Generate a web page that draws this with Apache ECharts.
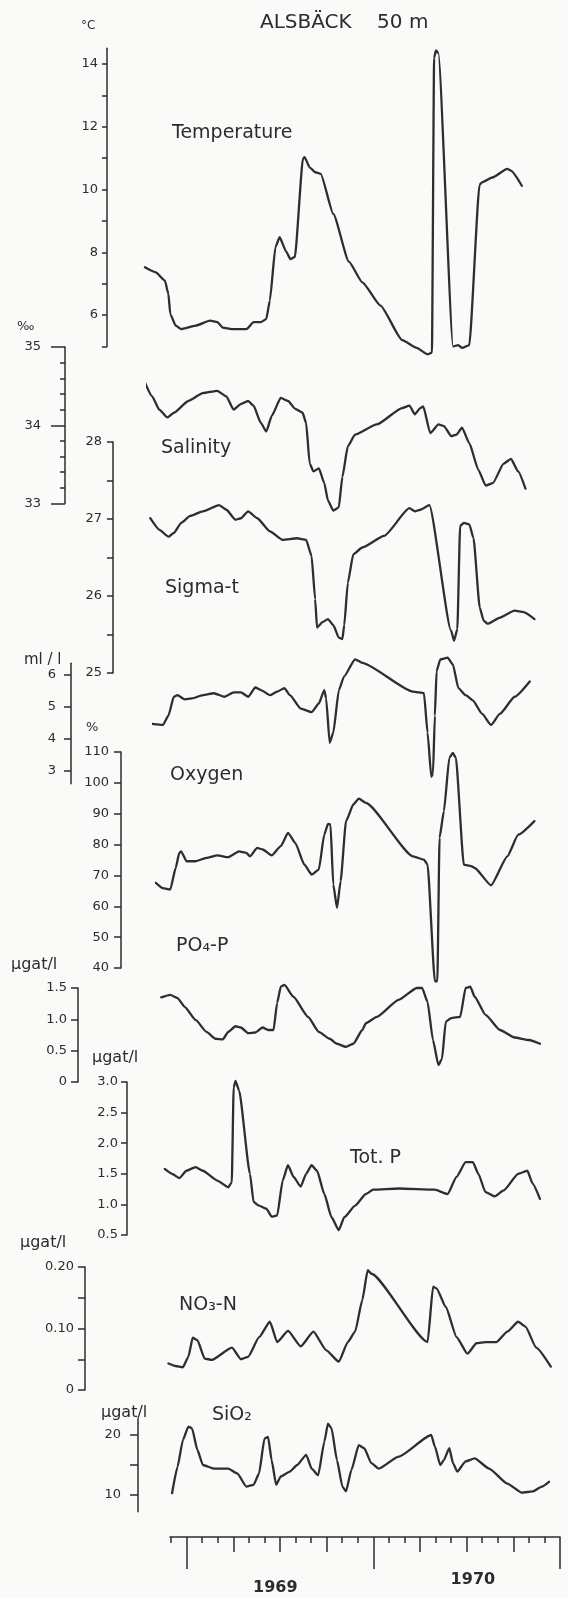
<!DOCTYPE html>
<html>
<head>
<meta charset="utf-8">
<title>Alsbäck 50 m</title>
<script src="https://cdn.jsdelivr.net/npm/echarts@6/dist/echarts.min.js"></script>
<style>
  html, body { margin: 0; padding: 0; background: #fafaf8; }
  #chart { width: 568px; height: 1598px; }
</style>
</head>
<body>
<div id="chart"></div>
<script>
// Time is counted in months from 1 January 1969.
const monthTicks = [-1,0,1,2,3,4,5,6,7,8,9,10,11,12,13,14,15,16,17,18,19,20,21,22,23,24];
const quarterTicks = [3,6,9,15,18,21];
const yearTicks = [0,12,24];
const yearLabelPos = [5.7, 18.4];
const yearNames = ['1969', '1970'];

// Observations at 50 m: [month, value]
const temperature = [
  [-0.96,7.52],[-0.26,7.36],[0.32,7.1],[0.55,6.67],[0.67,6.03],[1.02,5.66],[1.37,5.55],[2.3,5.66],
  [3.23,5.82],[3.7,5.77],[4.04,5.6],[4.63,5.55],[5.56,5.55],[6.03,5.77],[6.49,5.77],[6.84,5.87],
  [7.07,6.46],[7.43,8.16],[7.7,8.48],[8.12,8.02],[8.4,7.78],[8.68,7.85],[9.2,10.98],[9.3,11.03],
  [9.64,10.7],[9.99,10.55],[10.34,10.5],[11.15,9.22],[12.15,7.7],[13.02,7.04],
  [14.18,6.3],[15.58,5.2],[16.51,4.95],[17.21,4.75],[17.49,4.8],[17.63,14.2],[17.75,14.43],
  [17.9,14.35],[18.85,5.0],[19.19,5.04],[19.43,4.95],[19.89,5.04],[20.55,10.15],[20.71,10.23],
  [21.41,10.39],[22.33,10.66],[22.57,10.6],[23.27,10.12]
];
const salinity = [
  [-1.25,34.55],[-0.78,34.37],[-0.32,34.2],[0.2,34.1],[0.62,34.16],[1.55,34.31],[2.48,34.41],
  [3.41,34.44],[3.99,34.37],[4.46,34.2],[4.92,34.27],[5.39,34.31],[5.74,34.25],[6.21,34.03],
  [6.56,33.92],[6.91,34.12],[7.49,34.35],[7.96,34.31],[8.42,34.21],[8.89,34.16],[9.12,34.03],
  [9.35,33.51],[9.59,33.41],[9.94,33.45],[10.29,33.26],[10.52,33.04],[10.87,32.91],[11.22,32.95],
  [11.45,33.34],[11.8,33.73],[12.26,33.88],[13.66,34.01],[15.29,34.22],[15.76,34.25],[16.11,34.14],
  [16.46,34.22],[16.65,34.24],[17.1,33.9],[17.63,34.01],[17.98,33.99],[18.45,33.86],[18.79,33.88],
  [19.14,33.97],[19.61,33.77],[20.19,33.43],[20.66,33.23],[21.12,33.26],[21.82,33.51],[22.29,33.57],
  [22.75,33.41],[23.22,33.19]
];
const sigmaT = [
  [-1.08,27.01],[-0.49,26.86],[0.09,26.77],[0.44,26.82],[0.91,26.95],[1.49,27.04],[2.3,27.1],
  [3.35,27.18],[3.81,27.12],[4.4,26.99],[4.75,27.01],[5.21,27.1],[5.8,27.01],[6.61,26.84],
  [7.43,26.73],[8.36,26.75],[8.94,26.73],[9.29,26.52],[9.52,25.96],[9.64,25.59],[9.99,25.66],
  [10.34,25.7],[10.69,25.62],[11.04,25.46],[11.27,25.44],[11.39,25.62],[11.62,26.17],[11.97,26.54],
  [12.55,26.63],[13.95,26.78],[15.58,27.14],[15.94,27.1],[16.28,27.12],[16.86,27.18],[18.26,25.55],
  [18.45,25.42],[18.66,25.57],[18.84,26.91],[19.08,26.95],[19.43,26.93],[19.7,26.75],[20.1,25.85],
  [20.35,25.68],[20.6,25.64],[21.41,25.72],[22.34,25.81],[22.93,25.79],[23.62,25.7]
];
const oxygenMl = [
  [-1.16,4.47],[-0.47,4.44],[-0.12,4.73],[0.23,5.32],[0.46,5.37],[0.93,5.24],[1.4,5.27],[2.1,5.37],
  [2.8,5.43],[3.49,5.32],[4.08,5.46],[4.54,5.46],[5.01,5.32],[5.47,5.61],[5.83,5.53],[6.41,5.37],
  [6.87,5.48],[7.34,5.59],[7.69,5.37],[8.39,4.95],[9.09,4.84],[9.55,5.11],[9.9,5.53],[10.02,5.27],
  [10.25,3.88],[10.48,4.2],[10.84,5.53],[11.18,5.96],[11.88,6.49],[12.35,6.38],[15.61,5.48],
  [16.31,5.43],[16.54,4.2],[16.78,2.82],[16.89,2.93],[17.01,4.73],[17.12,6.12],[17.36,6.49],
  [17.83,6.54],[18.17,6.33],[18.52,5.59],[18.99,5.37],[19.45,5.21],[20.04,4.79],[20.62,4.44],
  [21.2,4.79],[22.14,5.32],[23.11,5.8]
];
const oxygenPct = [
  [-1.11,67.6],[-0.65,65.9],[-0.18,65.4],[0.17,72.4],[0.4,77.3],[0.52,77.8],[0.87,74.6],[1.45,74.6],
  [2.15,75.7],[2.85,76.5],[3.55,75.9],[4.24,77.8],[4.71,77.3],[4.95,76.2],[5.41,78.9],[5.76,78.4],
  [6.34,76.5],[6.93,79.5],[7.39,83.8],[7.86,80.5],[8.44,73.5],[8.91,70.3],[9.37,71.9],[9.72,83.2],
  [9.96,86.7],[10.12,86.5],[10.3,67.0],[10.54,59.5],[10.77,68.1],[11.12,87.6],[11.59,93.0],
  [11.94,94.9],[12.4,93.5],[15.43,76.2],[16.13,75.1],[16.36,73.5],[16.83,35.7],[16.99,35.7],
  [17.13,82.2],[17.41,90.8],[17.76,108.1],[17.99,109.7],[18.18,108.1],[18.69,73.5],[19.16,73.0],
  [19.39,72.4],[20.44,66.8],[21.49,76.2],[22.19,83.2],[23.23,87.6]
];
const po4 = [
  [-0.98,1.35],[-0.4,1.39],[0.07,1.34],[0.53,1.2],[1.23,0.99],[1.93,0.8],[2.51,0.69],[2.98,0.68],
  [3.33,0.8],[3.79,0.89],[4.14,0.87],[4.61,0.78],[5.08,0.79],[5.54,0.87],[5.89,0.83],[6.24,0.83],
  [6.47,1.26],[6.71,1.52],[6.94,1.55],[7.52,1.36],[8.46,1.04],[9.15,0.8],[9.85,0.69],[10.32,0.61],
  [10.9,0.56],[11.37,0.61],[11.95,0.83],[12.18,0.94],[12.88,1.04],[14.28,1.31],[15.45,1.5],
  [15.79,1.5],[16.14,1.28],[16.49,0.67],[16.84,0.27],[17.07,0.37],[17.31,0.96],[17.66,1.02],
  [18.24,1.04],[18.59,1.5],[18.89,1.52],[19.17,1.36],[19.87,1.07],[20.8,0.83],[21.74,0.71],
  [22.67,0.67],[23.37,0.61]
];
const totP = [
  [-0.92,1.58],[-0.45,1.5],[0.01,1.43],[0.48,1.55],[1.07,1.61],[1.53,1.55],[2.46,1.39],[3.16,1.28],
  [3.39,1.36],[3.51,2.91],[3.63,3.02],[3.86,2.86],[4.56,1.5],[4.79,1.04],[5.14,0.98],[5.61,0.93],
  [5.96,0.8],[6.31,0.82],[6.66,1.39],[7.0,1.64],[7.36,1.45],[7.82,1.29],[8.17,1.5],[8.52,1.64],
  [8.87,1.55],[9.34,1.17],[9.8,0.79],[10.27,0.58],[10.62,0.79],[11.32,0.98],[12.01,1.17],
  [12.48,1.24],[14.12,1.26],[16.44,1.24],[17.26,1.17],[17.84,1.45],[18.42,1.69],[18.89,1.69],
  [19.24,1.5],[19.7,1.2],[20.29,1.13],[20.87,1.23],[21.8,1.5],[22.39,1.55],[22.73,1.34],[23.2,1.09]
];
const no3 = [
  [-0.9,0.043],[-0.44,0.039],[0.03,0.037],[0.38,0.054],[0.66,0.085],[0.96,0.081],[1.43,0.051],
  [1.89,0.049],[3.18,0.069],[3.76,0.05],[4.22,0.054],[4.93,0.086],[5.62,0.111],[6.09,0.078],
  [6.79,0.096],[7.6,0.071],[8.42,0.095],[9.23,0.065],[10.05,0.046],[10.63,0.078],[11.1,0.095],
  [11.56,0.146],[11.91,0.195],[12.15,0.189],[15.76,0.078],[16.11,0.168],[16.34,0.165],[16.93,0.135],
  [17.62,0.086],[18.32,0.059],[18.9,0.076],[19.49,0.078],[20.19,0.078],[20.88,0.095],[21.58,0.111],
  [22.05,0.103],[22.74,0.069],[23.68,0.038]
];
const sio2 = [
  [-0.84,10.3],[-0.49,14.7],[-0.14,19.2],[0.21,21.4],[0.44,21.1],[0.79,17.5],[1.14,15.0],[1.84,14.4],
  [2.77,14.4],[3.35,13.6],[3.94,11.4],[4.4,11.7],[4.75,13.6],[5.1,19.4],[5.33,19.7],[5.56,15.8],
  [5.85,11.7],[6.15,13.1],[6.73,13.9],[7.2,15.0],[7.78,16.7],[8.13,14.4],[8.55,13.3],[8.95,18.9],
  [9.18,21.9],[9.41,21.1],[9.76,15.8],[10.11,11.4],[10.34,10.6],[10.69,14.2],[11.16,18.3],
  [11.51,17.8],[11.97,15.3],[12.44,14.4],[13.72,16.4],[15.82,20.0],[16.05,18.1],[16.4,15.0],
  [16.63,15.8],[16.98,17.8],[17.22,15.3],[17.49,13.9],[18.03,15.6],[18.61,16.1],[19.54,14.4],
  [20.71,11.9],[21.64,10.4],[22.34,10.6],[22.93,11.4],[23.39,12.2]
];

// Tick values and labelled values of the vertical scales
const tempTicks = [5,6,7,8,9,10,11,12,13,14];
const tempLabels = [6,8,10,12,14];
const salinityTicks = [33,34,35];
const salinityMinorTicks = [33.2,33.4,33.6,33.8,34.2,34.4,34.6,34.8];
const sigmaTicks = [25,25.5,26,26.5,27,27.5,28];
const sigmaLabels = [25,26,27,28];
const oxygenMlTicks = [3,4,5,6];
const oxygenPctTicks = [40,50,60,70,80,90,100,110];
const po4Ticks = [0,0.5,1,1.5];
const totPTicks = [0.5,1,1.5,2,2.5,3];
const no3Ticks = [0,0.05,0.1,0.15,0.2];
const no3Labels = [0,0.1,0.2];
const sio2Ticks = [10,15,20];
const sio2Labels = [10,20];

// ---- styling and layout ----
const FONT = 'DejaVu Sans';
const INK = '#2c2c2c';
const CURVE = '#2e2e2e';
const T_MIN = -1.07, T_MAX = 24;
const PLOT_LEFT = 170, PLOT_W = 390;
const AXIS_Y = 1537;
const SMOOTH = 0.17;
const axisLine = { color: INK, width: 1.5 };

const plain = v => String(v);
const oneDec = v => (v === 0 ? '0' : v.toFixed(1));
const twoDec = v => (v === 0 ? '0' : v.toFixed(2));

// Each strip: where its scale stands, its pixel anchors and the drawn extent of its axis line.
// "shift" follows the slight lean of the printed figure from top to bottom.
const panels = [
  { data: temperature, axisX: 107, shift: -26.8, anchor: [[6, 315], [14, 64]], range: [5, 14.5],
    ticks: tempTicks, labels: tempLabels, tickLen: 5, margin: 9, fmt: plain },
  { data: salinity, axisX: 65, shift: -22.4, anchor: [[33, 503.5], [35, 347]], range: [33, 35],
    ticks: salinityTicks, labels: salinityTicks, minorTicks: salinityMinorTicks, tickLen: 14, minorLen: 5, margin: 24, fmt: plain },
  { data: sigmaT, axisX: 113, shift: -19.6, anchor: [[25, 673], [28, 442]], range: [25, 28],
    ticks: sigmaTicks, labels: sigmaLabels, tickLen: 6, margin: 11, fmt: plain },
  { data: oxygenMl, axisX: 71, shift: -16.4, anchor: [[3, 771], [6, 675]], range: [2.6, 6.37],
    ticks: oxygenMlTicks, labels: oxygenMlTicks, tickLen: 7, margin: 15, fmt: plain },
  { data: oxygenPct, axisX: 121, shift: -13.6, anchor: [[40, 968], [110, 752]], range: [40, 110],
    ticks: oxygenPctTicks, labels: oxygenPctTicks, tickLen: 7, margin: 12, fmt: plain },
  { data: po4, axisX: 78, shift: -10.2, anchor: [[0, 1082], [1.5, 988]], range: [0, 1.5],
    ticks: po4Ticks, labels: po4Ticks, tickLen: 7, margin: 11, fmt: oneDec },
  { data: totP, axisX: 127, shift: -7.6, anchor: [[0.5, 1235], [3, 1082]], range: [0.5, 3],
    ticks: totPTicks, labels: totPTicks, tickLen: 6, margin: 9, fmt: oneDec },
  { data: no3, axisX: 85, shift: -4.2, anchor: [[0, 1390], [0.2, 1267]], range: [0, 0.2],
    ticks: no3Ticks, labels: no3Labels, tickLen: 7, margin: 11, fmt: twoDec },
  { data: sio2, axisX: 138, shift: -1.5, anchor: [[10, 1495], [20, 1435]], range: [7.2, 22.7],
    ticks: sio2Ticks, labels: sio2Labels, tickLen: 8, margin: 17, fmt: plain }
];

const texts = [
  { text: 'ALSBÄCK    50 m', x: 260, y: 23, size: 20 },
  { text: '°C', x: 81, y: 26, size: 12 },
  { text: 'Temperature', x: 172, y: 133, size: 19 },
  { text: '‰', x: 17, y: 327, size: 13 },
  { text: 'Salinity', x: 161, y: 448, size: 19 },
  { text: 'Sigma-t', x: 165, y: 588, size: 19 },
  { text: 'ml / l', x: 24, y: 660, size: 15 },
  { text: '%', x: 86, y: 728, size: 13 },
  { text: 'Oxygen', x: 170, y: 775, size: 19 },
  { text: 'PO₄-P', x: 176, y: 946, size: 19 },
  { text: 'µgat/l', x: 11, y: 965, size: 16 },
  { text: 'µgat/l', x: 92, y: 1058, size: 16 },
  { text: 'Tot. P', x: 350, y: 1158, size: 19 },
  { text: 'µgat/l', x: 20, y: 1243, size: 16 },
  { text: 'NO₃-N', x: 179, y: 1305, size: 19 },
  { text: 'µgat/l', x: 101, y: 1413, size: 16 },
  { text: 'SiO₂', x: 212, y: 1415, size: 19 }
];

const grid = [], xAxis = [], yAxis = [], series = [];
const labelStyle = { color: INK, fontSize: 13, fontFamily: FONT };

panels.forEach((p, i) => {
  const [[v0, y0], [v1, y1]] = p.anchor;
  const k = (y1 - y0) / (v1 - v0);
  const py = v => y0 + (v - v0) * k;
  const top = py(p.range[1]);
  const bottom = py(p.range[0]);
  const left = PLOT_LEFT + p.shift;
  grid.push({ left: left, top: top, width: PLOT_W, height: bottom - top, outerBoundsMode: 'none' });
  xAxis.push({ type: 'value', gridIndex: i, min: T_MIN, max: T_MAX, show: false, splitLine: { show: false } });
  const yi = yAxis.length;
  yAxis.push({
    type: 'value', gridIndex: i, position: 'left', min: p.range[0], max: p.range[1],
    offset: left - p.axisX,
    axisLine: { show: true, onZero: false, lineStyle: axisLine },
    axisTick: { show: true, inside: false, length: p.tickLen, customValues: p.ticks, lineStyle: axisLine },
    axisLabel: Object.assign({ show: true, customValues: p.labels, margin: p.margin, formatter: p.fmt }, labelStyle),
    splitLine: { show: false }
  });
  if (p.minorTicks) {
    yAxis.push({
      type: 'value', gridIndex: i, position: 'left', min: p.range[0], max: p.range[1],
      offset: left - p.axisX,
      axisLine: { show: false, onZero: false },
      axisTick: { show: true, inside: false, length: p.minorLen, customValues: p.minorTicks, lineStyle: axisLine },
      axisLabel: { show: false },
      splitLine: { show: false }
    });
  }
  series.push({
    type: 'line', xAxisIndex: i, yAxisIndex: yi, data: p.data,
    smooth: SMOOTH, smoothMonotone: 'x', showSymbol: false, symbol: 'none', clip: false, silent: true,
    lineStyle: { color: CURVE, width: 2.3, cap: 'round', join: 'round' }
  });
});

// Shared month axis at the foot of the figure
const bi = grid.length;
grid.push({ left: PLOT_LEFT, width: PLOT_W, top: AXIS_Y - 1, height: 1, outerBoundsMode: 'none' });
yAxis.push({ type: 'value', gridIndex: bi, min: 0, max: 1, show: false, splitLine: { show: false } });
const timeAxis = (extra) => Object.assign({
  type: 'value', gridIndex: bi, position: 'bottom', min: T_MIN, max: T_MAX,
  axisLine: { show: false, onZero: false },
  axisTick: { show: false },
  axisLabel: { show: false },
  splitLine: { show: false }
}, extra);
xAxis.push(timeAxis({
  axisLine: { show: true, onZero: false, lineStyle: axisLine },
  axisTick: { show: true, length: 6, customValues: monthTicks, lineStyle: axisLine }
}));
xAxis.push(timeAxis({ axisTick: { show: true, length: 15, customValues: quarterTicks, lineStyle: axisLine } }));
xAxis.push(timeAxis({ axisTick: { show: true, length: 32, customValues: yearTicks, lineStyle: axisLine } }));
// Year names, one axis each so each sits at its own depth below the line
const yearMargins = [43, 35];
yearLabelPos.forEach((pos, j) => {
  xAxis.push(timeAxis({
    axisLabel: {
      show: true, customValues: [pos], margin: yearMargins[j],
      formatter: () => yearNames[j],
      color: INK, fontSize: 16, fontWeight: 'bold', fontFamily: FONT
    }
  }));
});

const chart = echarts.init(document.getElementById('chart'), null, { renderer: 'canvas' });
chart.setOption({
  backgroundColor: '#fafaf8',
  animation: false,
  grid: grid,
  xAxis: xAxis,
  yAxis: yAxis,
  series: series,
  graphic: texts.map(t => ({
    type: 'text', x: t.x, y: t.y, silent: true, z: 10,
    style: { text: t.text, fill: INK, fontSize: t.size, fontFamily: FONT, align: 'left', verticalAlign: 'middle' }
  }))
});
</script>
</body>
</html>
